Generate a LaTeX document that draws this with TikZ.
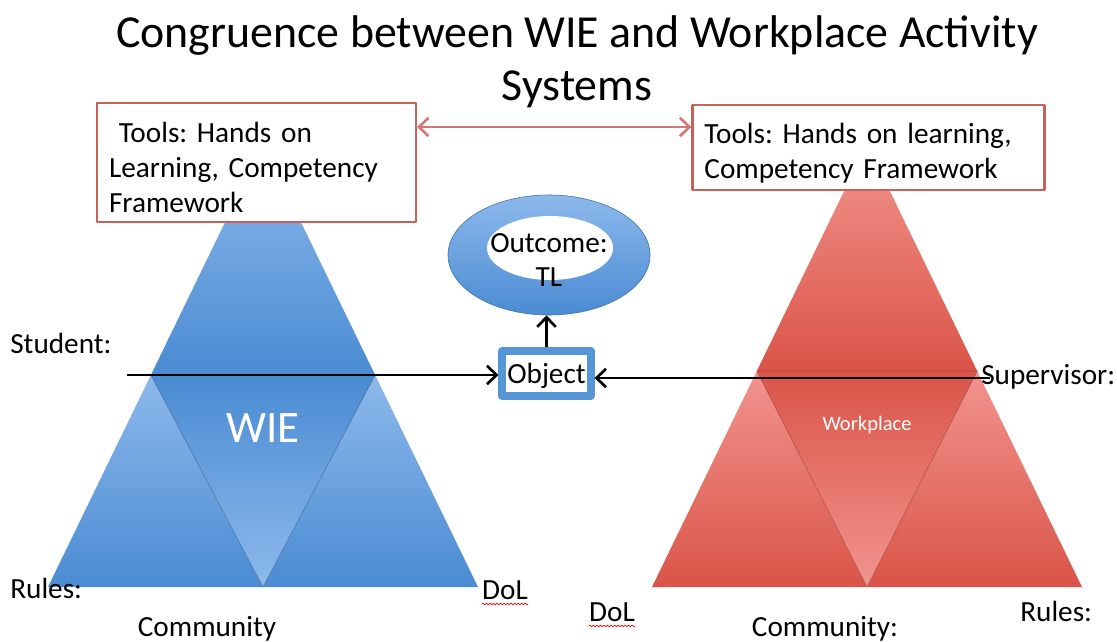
\documentclass[tikz,border=0pt]{standalone}
\usepackage{fontspec}
\setmainfont{Carlito}
\frenchspacing
\usetikzlibrary{arrows.meta,shapes.geometric,decorations.pathmorphing}
\definecolor{wieTop}{HTML}{8DB9EC}
\definecolor{wieBot}{HTML}{4A8BD2}
\definecolor{wpTop}{HTML}{F2948E}
\definecolor{wpBot}{HTML}{DA5448}
\definecolor{toolRed}{HTML}{C8605C}
\definecolor{objBlue}{HTML}{5796D6}
\tikzset{
  toolbox/.style={draw=toolRed, line width=1.6pt, fill=white, align=left, inner xsep=0.3cm, inner ysep=0pt},
  lbl/.style={inner sep=0pt},
  arr/.style={line width=1.9pt, -{Straight Barb[length=2.4mm,width=4.6mm]}},
  tarr/.style={draw=toolRed!85, line width=1.8pt, {Straight Barb[length=2.4mm,width=4.6mm]}-{Straight Barb[length=2.4mm,width=4.6mm]}},
  wavy/.style={draw=red, line width=0.5pt, decorate, decoration={snake, amplitude=0.6pt, segment length=2.5pt}}
}
\begin{document}
\begin{tikzpicture}[x=0.025cm, y=-0.025cm, line join=round, font=\fontsize{20.8}{24.8}\selectfont]
\useasboundingbox[fill=white] (0,0) rectangle (1117,642);
% the two activity triangles
\foreach \cx/\my/\ct/\cb in {263/375/wieTop/wieBot, 867/371/wpTop/wpBot}{
  \pgfmathsetmacro{\hw}{0.4853*(\my-144)}
  \coordinate (A) at (\cx,144);
  \coordinate (M1) at (\cx-\hw,\my);
  \coordinate (M2) at (\cx+\hw,\my);
  \coordinate (B1) at (\cx-215,587);
  \coordinate (B2) at (\cx,587);
  \coordinate (B3) at (\cx+215,587);
  \shade[top color=\ct, bottom color=\cb] (A) -- (M1) -- (M2) -- cycle;
  \shade[top color=\ct, bottom color=\cb] (M1) -- (B1) -- (B2) -- cycle;
  \shade[top color=\ct, bottom color=\cb] (M2) -- (B2) -- (B3) -- cycle;
  \shade[top color=\cb, bottom color=\ct] (M1) -- (M2) -- (B2) -- cycle;
  \draw[\cb!60!black, opacity=0.45, line width=0.6pt] (M1) -- (M2) -- (B2) -- cycle;
}
\node[lbl, white, font=\fontsize{32}{38}\selectfont, anchor=base] (wie) at (263,442) {WIE};
\node[lbl, white, font=\fontsize{14.6}{17}\selectfont, anchor=base] (work) at (867,430) {Workplace};
% title
\node[align=center, font=\fontsize{32.6}{37.5}\selectfont] (title) at (577,62) {Congruence between WIE and Workplace Activity\\Systems};
% tool boxes
\node[toolbox, text width=7.37cm, minimum height=2.975cm] (toolsL) at (256.5,162.5) {\rule{0pt}{21.3pt}\ Tools: Hands on\\Learning, Competency\\Framework};
\node[toolbox, text width=8.2cm, minimum height=2.125cm] (toolsR) at (868.5,147.5) {\rule{0pt}{22.6pt}Tools: Hands on learning,\\Competency Framework};
\draw[tarr] (toolsL.east |- 0,127) -- (toolsR.west |- 0,127);
% outcome ring and object
\node[ellipse, minimum width=5.05cm, minimum height=3cm, top color=wieTop, bottom color=wieBot, draw=wieBot!80!black, line width=0.4pt] (outcome) at (549,255) {};
\node[ellipse, fill=white, minimum width=3.15cm, minimum height=1.6cm] (outcomeIn) at (550,248) {};
\node[align=center] (outcomeTxt) at (549,260) {Outcome:\\TL};
\node[draw=objBlue, line width=0.18cm, fill=white, minimum width=2.22cm, minimum height=1.12cm, inner sep=0pt, text depth=0pt] (object) at (546.5,373.5) {Object};
\draw[arr] (object.north) -- (object.north |- outcome.south);
% subjects
\node[lbl, anchor=west] (student) at (10,343) {Student:};
\node[lbl, anchor=base west] (supervisor) at (981,385) {Supervisor:};
\coordinate (sArr) at (127,375);
\coordinate (vArr) at (990,378);
\draw[arr] (sArr) -- (sArr -| object.west);
\draw[arr] (vArr) -- (vArr -| object.east);
% bottom labels
\node[lbl, anchor=base west] (rulesL) at (10,598) {Rules:};
\node[lbl, anchor=base] (commL) at (207,636) {Community};
\node[lbl, anchor=base] (dolL) at (505,599) {DoL};
\node[lbl, anchor=base] (dolR) at (612,621) {DoL};
\node[lbl, anchor=base] (commR) at (825,636) {Community:};
\node[lbl, anchor=base west] (rulesR) at (1020,621) {Rules:};
\foreach \p in {dolL, dolR}
  \draw[wavy] ([yshift=-3.5pt]\p.base west) -- ([yshift=-3.5pt]\p.base east);
\end{tikzpicture}
\end{document}
